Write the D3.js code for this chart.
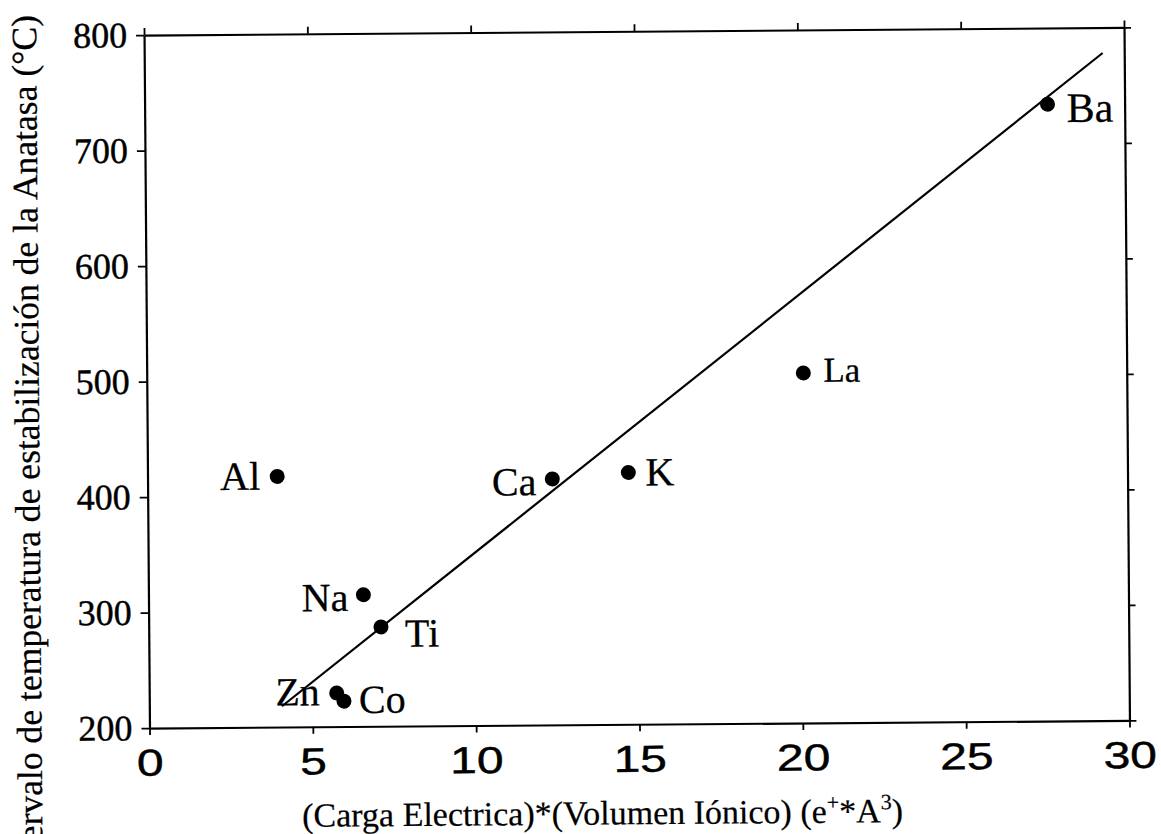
<!DOCTYPE html>
<html>
<head>
<meta charset="utf-8">
<script src="https://cdn.jsdelivr.net/npm/d3@7/dist/d3.min.js"></script>
<style>
  html, body { margin: 0; padding: 0; background: #ffffff; }
  svg { display: block; }
</style>
</head>
<body>
<script>
// Dopant ions and their measured values
const ions = ["Al", "Na", "Ti", "Zn", "Co", "Ca", "K", "La", "Ba"];
const chargeVolume = [3.97, 6.58, 7.11, 5.74, 5.96, 12.39, 14.72, 20.1, 27.64];
const anataseLimit = [417, 314, 286, 229, 222, 413, 418, 503, 734];

// Least-squares line, drawn between these two ends
const fitX = [4.06, 29.34];
const fitY = [218, 778];

// Axis ticks
const xTicks = [0, 5, 10, 15, 20, 25, 30];
const yTicks = [200, 300, 400, 500, 600, 700, 800];

const xTitle = "(Carga Electrica)*(Volumen Iónico) (e";
const yTitle = "Intervalo de temperatura de estabilización de la Anatasa (°C)";

// Label placement around each dot: [dx, dy, anchor, font size]
const labelPlacement = {
  Al: [-17, 13, "end", 40],
  Na: [-15, 16, "end", 40],
  Ti: [24, 20, "start", 40],
  Zn: [-17, 12, "end", 40],
  Co: [15, 12, "start", 40],
  Ca: [-16, 16, "end", 40],
  K:  [17, 13, "start", 40],
  La: [20, 9, "start", 35],
  Ba: [19, 18, "start", 42]
};

const W = 1161, H = 834;
const box = { left: 146.75, right: 1126.75, top: 31.25, bottom: 724.25 };
const cx = (box.left + box.right) / 2, cy = (box.top + box.bottom) / 2;
const tilt = -0.45;
const serif = "'Liberation Serif', 'Times New Roman', serif";
const sans = "'Liberation Sans', Arial, sans-serif";
const ink = 0.45; // slight thickening of the printed glyphs

const svg = d3.select("body").append("svg")
  .attr("width", W).attr("height", H)
  .attr("viewBox", `0 0 ${W} ${H}`);

svg.append("rect").attr("width", W).attr("height", H).attr("fill", "#fff");

// The whole figure sits slightly tilted on the page
const g = svg.append("g").attr("transform", `rotate(${tilt}, ${cx}, ${cy})`);

const x = d3.scaleLinear().domain([0, 30]).range([box.left, box.right]);
const y = d3.scaleLinear().domain([200, 800]).range([box.bottom, box.top]);

function styleAxis(sel, fontFamily, fontSize) {
  sel.attr("font-family", fontFamily).attr("font-size", fontSize);
  sel.select(".domain").attr("stroke", "#000").attr("stroke-width", 2.2);
  sel.selectAll(".tick line").attr("stroke", "#000").attr("stroke-width", 1.8);
  sel.selectAll(".tick text").attr("fill", "#000")
    .attr("stroke", "#000").attr("stroke-width", ink);
}

// Bottom axis: wide sans-serif numerals
g.append("g")
  .attr("transform", `translate(0,${box.bottom})`)
  .call(d3.axisBottom(x).tickValues(xTicks).tickFormat(d3.format("d"))
    .tickSize(7).tickSizeOuter(0).tickPadding(14))
  .call(s => styleAxis(s, sans, 37.5))
  .call(s => s.selectAll(".tick text").attr("transform", "scale(1.28,1)"));

g.append("g")
  .attr("transform", `translate(0,${box.top})`)
  .call(d3.axisTop(x).tickValues(xTicks).tickFormat("")
    .tickSize(7).tickSizeOuter(0))
  .call(s => styleAxis(s, sans, 37));

g.append("g")
  .attr("transform", `translate(${box.left},0)`)
  .call(d3.axisLeft(y).tickValues(yTicks).tickFormat(d3.format("d"))
    .tickSize(8).tickSizeOuter(0).tickPadding(9))
  .call(s => styleAxis(s, serif, 36));

g.append("g")
  .attr("transform", `translate(${box.right},0)`)
  .call(d3.axisRight(y).tickValues(yTicks).tickFormat("")
    .tickSize(7).tickSizeOuter(0))
  .call(s => styleAxis(s, serif, 36));

// Fitted line
const fit = fitX.map((v, i) => [v, fitY[i]]);
g.append("path")
  .datum(fit)
  .attr("d", d3.line().x(d => x(d[0])).y(d => y(d[1])))
  .attr("fill", "none")
  .attr("stroke", "#000")
  .attr("stroke-width", 2.2);

// Points
const pts = ions.map((name, i) => ({ name, cv: chargeVolume[i], t: anataseLimit[i] }));

g.append("g").selectAll("circle")
  .data(pts)
  .join("circle")
  .attr("cx", d => x(d.cv))
  .attr("cy", d => y(d.t))
  .attr("r", 7.5)
  .attr("fill", "#000");

g.append("g").selectAll("text")
  .data(pts)
  .join("text")
  .attr("x", d => x(d.cv) + labelPlacement[d.name][0])
  .attr("y", d => y(d.t) + labelPlacement[d.name][1])
  .attr("text-anchor", d => labelPlacement[d.name][2])
  .attr("font-size", d => labelPlacement[d.name][3])
  .attr("font-family", serif)
  .attr("fill", "#000")
  .attr("stroke", "#000")
  .attr("stroke-width", ink * 0.6)
  .text(d => d.name);

// Axis titles
const xt = g.append("text")
  .attr("x", box.left + 152)
  .attr("y", box.bottom + 100)
  .attr("font-family", serif)
  .attr("font-size", 34)
  .attr("fill", "#000")
  .attr("stroke", "#000")
  .attr("stroke-width", ink * 0.5);
xt.append("tspan").text(xTitle);
xt.append("tspan").attr("font-size", 22).attr("dy", -13).text("+");
xt.append("tspan").attr("font-size", 34).attr("dy", 13).text("*A");
xt.append("tspan").attr("font-size", 22).attr("dy", -13).text("3");
xt.append("tspan").attr("font-size", 34).attr("dy", 13).text(")");

g.append("text")
  .attr("transform", `translate(${box.left - 108},${box.top - 21}) rotate(-90)`)
  .attr("text-anchor", "end")
  .attr("font-family", serif)
  .attr("font-size", 35.6)
  .attr("fill", "#000")
  .attr("stroke", "#000")
  .attr("stroke-width", ink * 0.5)
  .text(yTitle);
</script>
</body>
</html>
